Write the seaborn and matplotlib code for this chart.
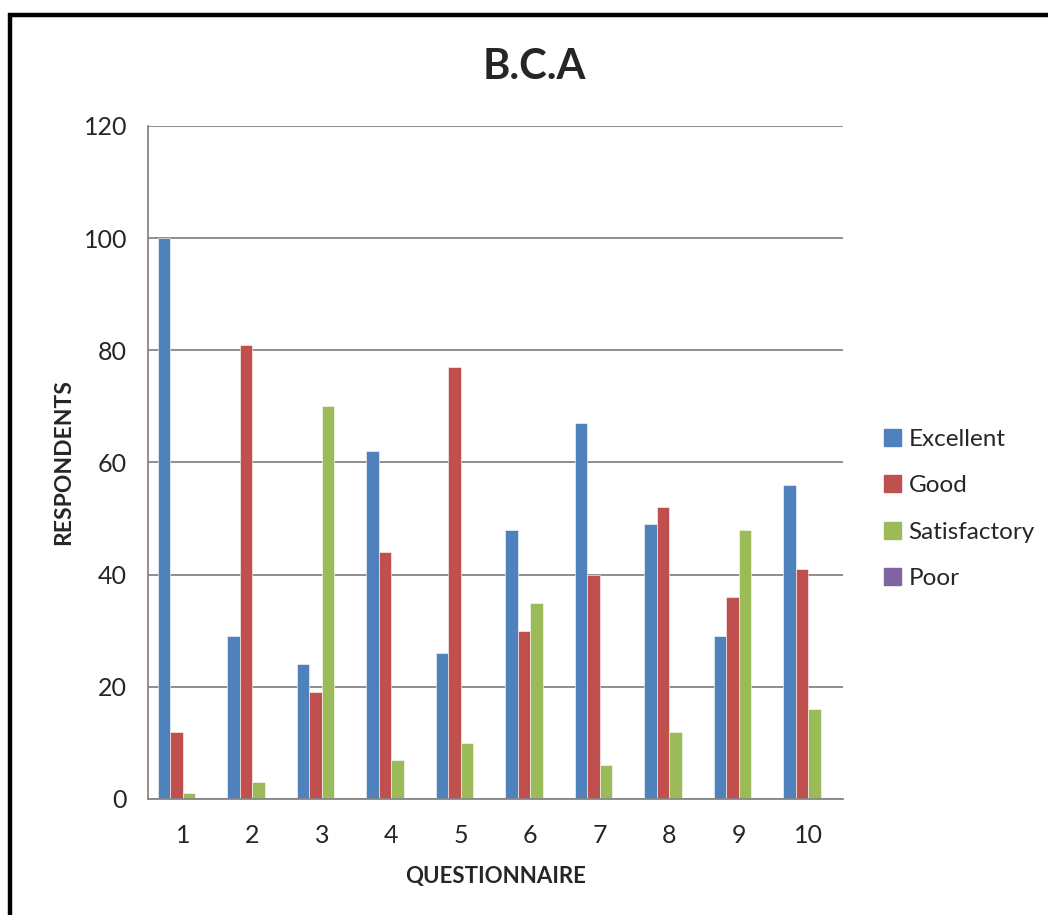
#!/usr/bin/env python3
"""
B.C.A questionnaire responses - clustered bar chart
"""

import pandas as pd
import matplotlib
matplotlib.use('Agg')
import matplotlib.pyplot as plt
from matplotlib.patches import Rectangle
import seaborn as sns

# Chart data
questions = ['1', '2', '3', '4', '5', '6', '7', '8', '9', '10']
excellent = [100, 29, 24, 62, 26, 48, 67, 49, 29, 56]
good = [12, 81, 19, 44, 77, 30, 40, 52, 36, 41]
satisfactory = [1, 3, 70, 7, 10, 35, 6, 12, 48, 16]
poor = [0, 0, 0, 0, 0, 0, 0, 0, 0, 0]
ratings = ['Excellent', 'Good', 'Satisfactory', 'Poor']
colors = ['#4F81BD', '#C0504D', '#9BBB59', '#8064A2']

# Long form table for seaborn
rows = []
for name, vals in zip(ratings, [excellent, good, satisfactory, poor]):
    for q, v in zip(questions, vals):
        rows.append({'question': q, 'rating': name, 'count': v})
df = pd.DataFrame(rows)

sns.set_style('white')
plt.rcParams['font.family'] = ['Lato', 'DejaVu Sans']

fig = plt.figure(figsize=(10.48, 9.15), dpi=100)
ax = fig.add_axes([0.1412, 0.1268, 0.6632, 0.7355])

sns.barplot(data=df, x='question', y='count', hue='rating', order=questions,
            hue_order=ratings, palette=colors, saturation=1, width=0.72, ax=ax,
            edgecolor='white', linewidth=0.4, legend=True)

grid_col = '#868686'
ax.set_ylim(0, 120)
ax.set_yticks(range(0, 121, 20))
ax.set_xlim(-0.5, len(questions) - 0.5)
ax.yaxis.grid(True, color=grid_col, linewidth=1.3)
ax.set_axisbelow(True)
for side in ['top', 'right']:
    ax.spines[side].set_visible(False)
for side in ['left', 'bottom']:
    ax.spines[side].set_color(grid_col)
    ax.spines[side].set_linewidth(1.3)
ax.tick_params(axis='y', length=5, width=1.3, color=grid_col, labelsize=18, pad=10)
ax.tick_params(axis='x', length=0, labelsize=18, pad=18)

ax.set_xlabel('QUESTIONNAIRE', fontsize=16, fontweight='bold', labelpad=14)
ax.set_ylabel('RESPONDENTS', fontsize=16.5, fontweight='bold', labelpad=7)

fig.text(0.51, 0.927, 'B.C.A', ha='center', va='center', fontsize=30, fontweight='bold')

ax.legend_.remove()
handles = [Rectangle((0, 0), 1, 1, color=c) for c in colors]
fig.legend(handles, ratings, loc='center left', bbox_to_anchor=(0.832, 0.4437),
           frameon=False, fontsize=17.5, handlelength=0.7, handleheight=0.7,
           handletextpad=0.3, labelspacing=1.05, borderpad=0)

# outer frame (left and top edges visible)
fig.add_artist(Rectangle((0.0095, -0.2), 1.5, 1.1836, transform=fig.transFigure,
                         fill=False, edgecolor='black', linewidth=3.2))

fig.savefig('out.png', dpi=100)
